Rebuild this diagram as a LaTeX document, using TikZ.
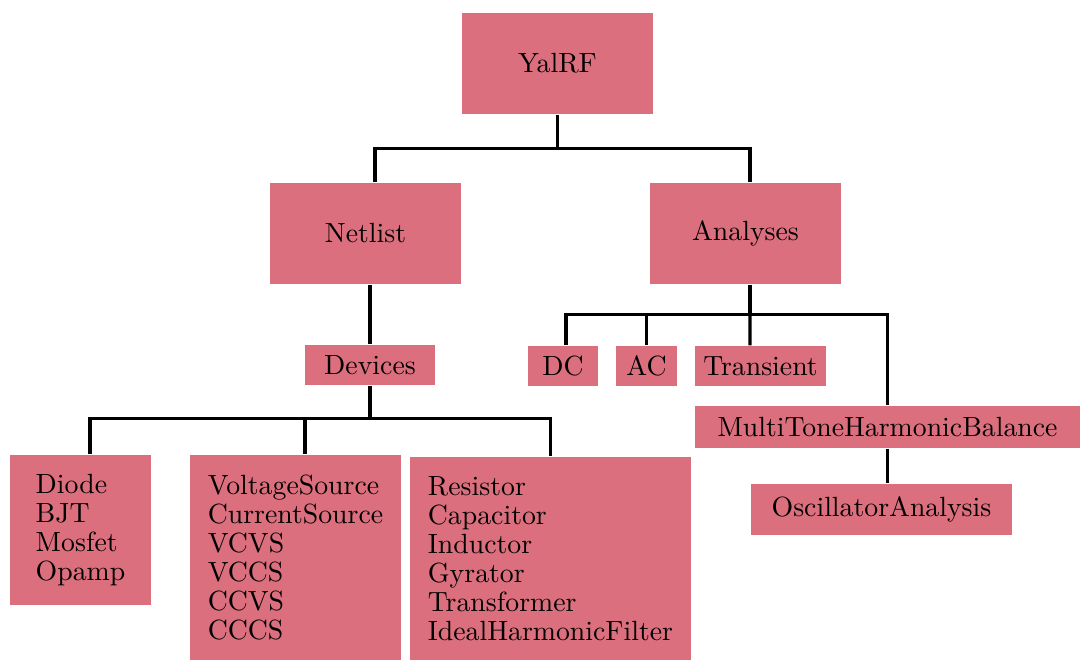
\documentclass[tikz,border=0pt]{standalone}
\usepackage{tikz}
\usetikzlibrary{calc}
\definecolor{BoxRed}{RGB}{219,111,126}

\begin{document}
\begin{tikzpicture}[x=0.36pt,y=-0.36pt,
    box/.style={fill=BoxRed,inner sep=0pt,minimum height=14.4pt},
    bigbox/.style={box,minimum width=68.8pt,minimum height=36.4pt},
    listbox/.style={box,align=left,font=\fontsize{10}{10.4}\selectfont},
    link/.style={line width=1.1pt}]
    \useasboundingbox (0,0) rectangle (1080,660);

    % top levels
    \node[bigbox] (yalrf) at (557.5,63.5) {YalRF};
    \node[bigbox] (netlist) at (365.5,233.5) {Netlist};
    \node[bigbox] (analyses) at (745.5,233.5) {Analyses};

    % netlist side
    \node[box,minimum width=46.8pt] (devices) at (370,365) {Devices};
    \node[listbox,minimum width=50.8pt,minimum height=54pt] (diode) at (80.5,530) {Diode\\BJT\\Mosfet\\Opamp};
    \node[listbox,minimum width=76pt,minimum height=73.8pt] (sources) at (295.5,557.5) {VoltageSource\\CurrentSource\\VCVS\\VCCS\\CCVS\\CCCS};
    \node[listbox,minimum width=101.2pt,minimum height=73.1pt] (passives) at (550.5,558.5) {Resistor\\Capacitor\\Inductor\\Gyrator\\Transformer\\IdealHarmonicFilter};

    % analyses side
    \node[box,minimum width=25.2pt] (dc) at (563,366) {DC};
    \node[box,minimum width=22pt] (ac) at (646.5,366) {AC};
    \node[box,minimum width=47.2pt] (transient) at (760.5,366) {Transient};
    \node[box,minimum width=138.6pt,minimum height=15.1pt] (mthb) at (887.5,427) {MultiToneHarmonicBalance};
    \node[box,minimum width=94pt,minimum height=18.4pt] (osc) at (881.5,509.5) {OscillatorAnalysis};

    % connectors
    \draw[link] (yalrf.south) -- ++(0,34) coordinate (bus1);
    \draw[link] ($(netlist.north)+(9.5,0)$) |- (bus1) -| ($(analyses.north)+(4.5,0)$);

    \draw[link] (devices.north) -- (devices.north |- netlist.south);
    \draw[link] (devices.south) -- ++(0,33) coordinate (bus2);
    \draw[link] ($(diode.north)+(9.5,0)$) |- (bus2) -| (passives.north);
    \draw[link] ($(sources.north)+(9.5,0)$) -- ++(0,-37);

    \draw[link] ($(analyses.south)+(4.5,0)$) -- ++(0,30) coordinate (bus3);
    \draw[link] ($(dc.north)+(3,0)$) |- (bus3) -| (mthb.north);
    \draw[link] (ac.north) -- (ac.north |- bus3);
    \draw[link] ($(transient.north)+(-10.5,0)$) -- (bus3);
    \draw[link] (mthb.south) -- (mthb.south |- osc.north);
\end{tikzpicture}
\end{document}
